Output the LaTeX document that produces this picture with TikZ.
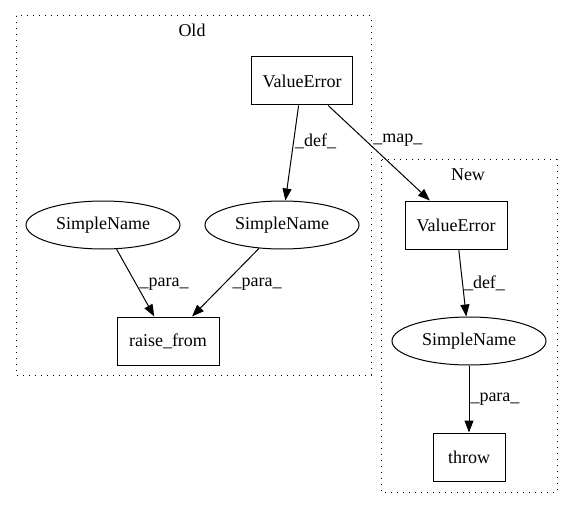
\documentclass[tikz,border=0pt]{standalone}
\usepackage{fontspec}
\setmainfont{Liberation Serif}
\usetikzlibrary{shapes.geometric,arrows.meta}

\begin{document}
\begin{tikzpicture}[x=1pt, y=-1pt, line width=1pt, font=\fontsize{18}{20}\selectfont,
    box/.style={draw, rectangle, minimum height=48pt, inner sep=0pt},
    oval/.style={draw, ellipse, minimum width=154pt, minimum height=48pt, inner sep=0pt},
    lbl/.style={inner sep=1pt, anchor=west},
    cluster/.style={dash pattern=on 1pt off 5pt},
    edge/.style={-{Triangle[length=12pt, width=9pt]}}]
    \useasboundingbox (0, 0) rectangle (573, 508);

    \draw [cluster] (16, 16) rectangle (371, 375);
    \node at (192, 30) {Old};
    \draw [cluster] (381, 160) rectangle (557, 492);
    \node at (468, 175) {New};

    \node [box, minimum width=101pt] (oldval) at (302, 81) {ValueError};
    \node [oval] (name1) at (103, 225) {SimpleName};
    \node [oval] (name2) at (282, 225) {SimpleName};
    \node [box, minimum width=102pt] (raise) at (168, 341) {raise\_from};

    \node [box, minimum width=102pt] (newval) at (456, 225) {ValueError};
    \node [oval] (name3) at (469, 341) {SimpleName};
    \node [box, minimum width=72pt] (throw) at (469, 457) {throw};

    \draw [edge] (oldval) -- (name2) node [lbl, pos=0.38] {\_def\_};
    \draw [edge] (oldval) -- (newval) node [lbl, pos=0.37, xshift=6pt] {\_map\_};
    \draw [edge] (name1) -- (raise) node [lbl, pos=0.52, xshift=2pt] {\_para\_};
    \draw [edge] (name2) -- (raise) node [lbl, pos=0.52, xshift=7pt] {\_para\_};
    \draw [edge] (newval) -- (name3) node [lbl, pos=0.5] {\_def\_};
    \draw [edge] (name3) -- (throw) node [lbl, pos=0.5] {\_para\_};
  \end{tikzpicture}
\end{document}
